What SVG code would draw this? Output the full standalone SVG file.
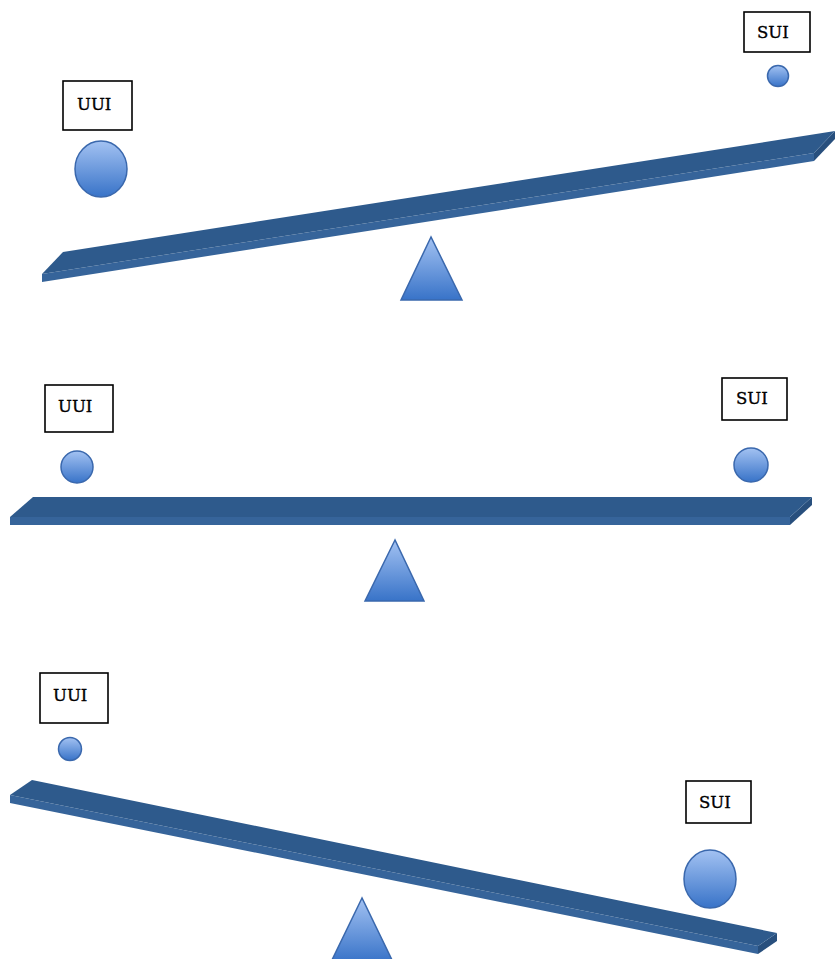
<svg xmlns="http://www.w3.org/2000/svg" width="837" height="959" viewBox="0 0 837 959">
<defs>
<linearGradient id="ball" x1="0" y1="0" x2="0" y2="1">
<stop offset="0" stop-color="#a3c2f2"/>
<stop offset="1" stop-color="#3873c8"/>
</linearGradient>
<style>
.box{fill:#fff;stroke:#000;stroke-width:1.6}
.lbl{font-family:"DejaVu Serif","Liberation Serif",serif;font-size:16.5px;fill:#000;stroke:#000;stroke-width:0.35}
.ball{fill:url(#ball);stroke:#3a68ad;stroke-width:1.5}
.top{fill:#2e5a8c}
.front{fill:#36649a}
.side{fill:#284f7d}
</style>
</defs>
<rect width="837" height="959" fill="#fff"/>

<g id="panel1">
<g id="uui1"><rect class="box" x="63" y="81" width="69" height="49"/><text class="lbl" x="77" y="110">UUI</text></g>
<g id="sui1"><rect class="box" x="744" y="12" width="66" height="40"/><text class="lbl" x="757" y="38">SUI</text></g>
<ellipse id="ball1a" class="ball" cx="101" cy="169" rx="26" ry="28"/>
<circle id="ball1b" class="ball" cx="778" cy="76" r="10.5"/>
<g id="beam1">
<polygon class="front" points="42,274 814,153 814,161 42,282"/>
<polygon class="side" points="814,153 835,131 835,139 814,161"/>
<polygon class="top" points="63,252 835,131 814,153 42,274"/>
</g>
<polygon id="fulcrum1" class="ball" points="431,237 401,300 462,300"/>
</g>

<g id="panel2">
<g id="uui2"><rect class="box" x="45" y="385" width="68" height="47"/><text class="lbl" x="58" y="412">UUI</text></g>
<g id="sui2"><rect class="box" x="722" y="378" width="65" height="42"/><text class="lbl" x="736" y="404">SUI</text></g>
<circle id="ball2a" class="ball" cx="77" cy="467" r="16"/>
<circle id="ball2b" class="ball" cx="751" cy="465" r="17"/>
<g id="beam2">
<polygon class="front" points="10,517 790,517 790,525 10,525"/>
<polygon class="side" points="790,517 812,497 812,505 790,525"/>
<polygon class="top" points="33,497 812,497 790,517 10,517"/>
</g>
<polygon id="fulcrum2" class="ball" points="395,540 365,601 424,601"/>
</g>

<g id="panel3">
<g id="uui3"><rect class="box" x="40" y="673" width="68" height="50"/><text class="lbl" x="53" y="701">UUI</text></g>
<g id="sui3"><rect class="box" x="686" y="781" width="65" height="42"/><text class="lbl" x="699" y="808">SUI</text></g>
<circle id="ball3a" class="ball" cx="70" cy="749" r="11.5"/>
<ellipse id="ball3b" class="ball" cx="710" cy="879" rx="26" ry="29"/>
<g id="beam3">
<polygon class="front" points="10,795 758,946 758,954 10,803"/>
<polygon class="side" points="758,946 777,933 777,941 758,954"/>
<polygon class="top" points="32,780 777,933 758,946 10,795"/>
</g>
<polygon id="fulcrum3" class="ball" points="362,898 331,962 393,962"/>
</g>
</svg>
